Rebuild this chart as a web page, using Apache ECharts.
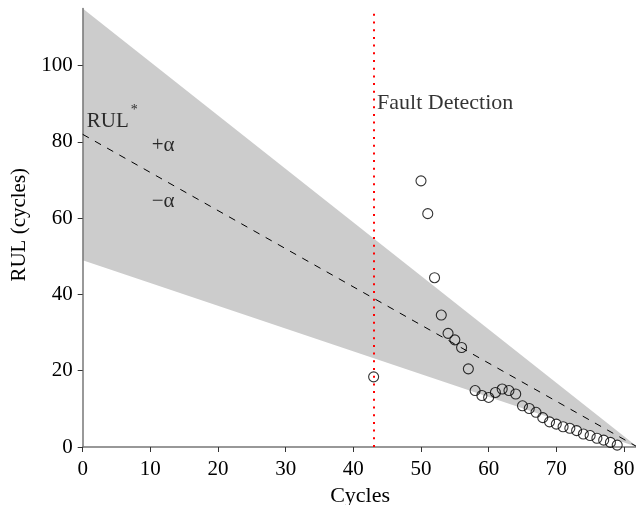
<!DOCTYPE html>
<html><head><meta charset="utf-8">
<script src="https://cdn.jsdelivr.net/npm/echarts@6/dist/echarts.min.js"></script>
<style>html,body{margin:0;padding:0;background:#fff}#c{width:636px;height:505px}</style>
</head><body><div id="c"></div>
<script>
// ---- data ----
const cycles = [43,50,51,52,53,54,55,56,57,58,59,60,61,62,63,64,65,66,67,68,69,70,71,72,73,74,75,76,77,78,79];
const rulEst = [18.4,69.8,61.2,44.4,34.6,29.8,28.1,26.1,20.5,14.8,13.5,13.0,14.3,15.2,14.8,13.9,10.8,10.1,9.1,7.7,6.6,6.0,5.3,4.9,4.3,3.4,3.0,2.3,1.8,1.2,0.5];
const trueX = [0, 82];
const trueRUL = [82, 0];
const bandUpper = [115, 0];
const bandLower = [49, 0];
const faultCycle = 43;
const xTicks = [0,10,20,30,40,50,60,70,80];
const yTicks = [0,20,40,60,80,100];
const annotations = [
  {name:'RUL', x:0.6, y:85.3, size:21},
  {name:'*', x:7.1, y:88.4, size:14},
  {name:'+\u03b1', x:10.2, y:79.0, size:21},
  {name:'\u2212\u03b1', x:10.2, y:64.5, size:21},
  {name:'Fault Detection', x:43.5, y:90.1, size:22}
];

const font = 'Liberation Serif';
const chart = echarts.init(document.getElementById('c'), null, {renderer:'canvas'});
const axisCol = '#777';
chart.setOption({
  animation:false,
  backgroundColor:'#fff',
  grid:{left:82.7, top:8.5, width:554.8, height:438.5, containLabel:false, outerBoundsMode:'none'},
  xAxis:{type:'value', min:0, max:82, interval:10,
    name:'Cycles', nameLocation:'middle', nameGap:36,
    nameTextStyle:{fontFamily:font, fontSize:22, color:'#000'},
    axisLine:{show:true, onZero:false, lineStyle:{color:axisCol, width:1.5}},
    axisTick:{show:true, length:5, customValues:xTicks, lineStyle:{color:'#333', width:1}},
    axisLabel:{customValues:xTicks, margin:12, fontFamily:font, fontSize:21, color:'#000'},
    splitLine:{show:false}},
  yAxis:{type:'value', min:0, max:115, interval:20,
    name:'RUL (cycles)', nameLocation:'middle', nameGap:49, nameRotate:90,
    nameTextStyle:{fontFamily:font, fontSize:21, color:'#000', padding:[0,0,0,6]},
    axisLine:{show:true, onZero:false, lineStyle:{color:axisCol, width:1.5}},
    axisTick:{show:true, length:5, customValues:yTicks, lineStyle:{color:'#333', width:1}},
    axisLabel:{customValues:yTicks, margin:10, fontFamily:font, fontSize:21, color:'#000'},
    splitLine:{show:false}},
  series:[
    {type:'custom', z:-1, silent:true,
     data: trueX.map((x,i)=>[x, bandUpper[i], bandLower[i]]),
     renderItem:function(params, api){
       if (params.dataIndex !== 0) return;
       const pts = [];
       for (let i=0;i<trueX.length;i++) pts.push(api.coord([trueX[i], bandUpper[i]]));
       for (let i=trueX.length-1;i>=0;i--) pts.push(api.coord([trueX[i], bandLower[i]]));
       return {type:'polygon', shape:{points:pts}, style:{fill:'#cccccc', stroke:null}};
     }},
    {type:'line', data: trueX.map((x,i)=>[x, trueRUL[i]]), symbol:'none',
     lineStyle:{color:'#000', width:1, type:[7,7]},
     markLine:{silent:true, symbol:['none','none'], label:{show:false},
       lineStyle:{color:'#ff0000', width:2, type:[2,5.7]},
       data:[{xAxis:faultCycle}]}},
    {type:'scatter', data: cycles.map((x,i)=>[x, rulEst[i]]), symbol:'circle', symbolSize:10,
     itemStyle:{color:'rgba(0,0,0,0)', borderColor:'#000', borderWidth:1.1}},
    {type:'scatter', symbolSize:0, silent:true,
     data: annotations.map(a=>({value:[a.x,a.y], name:a.name,
       label:{show:true, position:[0,0], align:'left', verticalAlign:'middle',
         formatter:a.name, fontFamily:font, fontSize:a.size, color:'#000'}}))}
  ]
});
</script></body></html>
